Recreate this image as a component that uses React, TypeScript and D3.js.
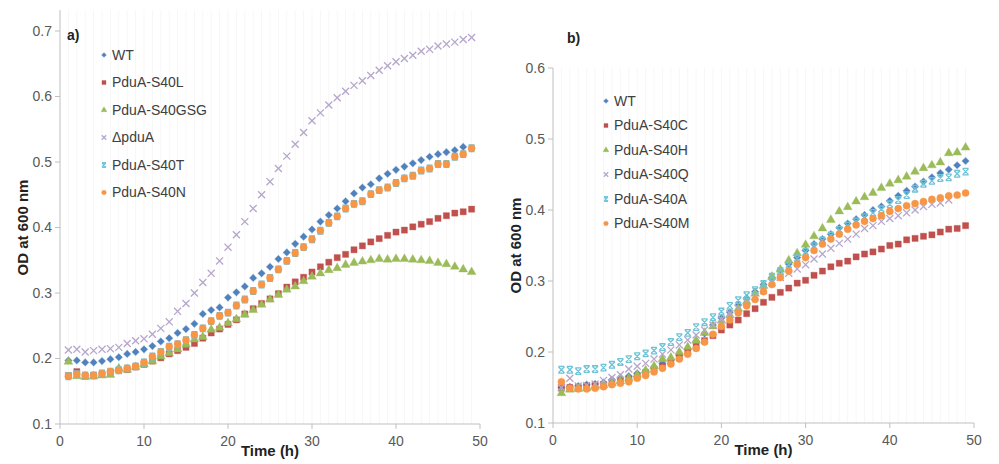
import React from "react";
import * as d3 from "d3";

const HOURS = [1,2,3,4,5,6,7,8,9,10,11,12,13,14,15,16,17,18,19,20,21,22,23,24,25,26,27,28,29,30,31,32,33,34,35,36,37,38,39,40,41,42,43,44,45,46,47,48,49];

// Panel a)
const A_WT = [0.197,0.197,0.194,0.194,0.196,0.199,0.202,0.207,0.210,0.214,0.219,0.226,0.231,0.239,0.245,0.253,0.268,0.274,0.278,0.293,0.301,0.310,0.323,0.330,0.340,0.352,0.362,0.375,0.386,0.397,0.409,0.419,0.429,0.440,0.452,0.461,0.466,0.475,0.482,0.488,0.493,0.498,0.503,0.508,0.512,0.515,0.518,0.523];
const A_S40L = [0.174,0.180,0.173,0.174,0.176,0.179,0.182,0.183,0.187,0.191,0.196,0.201,0.207,0.212,0.217,0.223,0.231,0.239,0.245,0.252,0.259,0.268,0.276,0.284,0.291,0.299,0.309,0.317,0.324,0.332,0.340,0.347,0.354,0.359,0.366,0.372,0.378,0.383,0.388,0.393,0.396,0.401,0.405,0.409,0.414,0.418,0.422,0.424,0.428];
const A_S40GSG = [0.195,0.173,0.172,0.173,0.174,0.175,0.185,0.183,0.187,0.191,0.196,0.203,0.208,0.214,0.221,0.229,0.233,0.244,0.247,0.254,0.260,0.267,0.274,0.282,0.290,0.297,0.305,0.310,0.318,0.325,0.330,0.335,0.338,0.343,0.346,0.348,0.350,0.352,0.351,0.352,0.352,0.351,0.350,0.349,0.346,0.344,0.340,0.336,0.332];
const A_DPDUA = [0.213,0.214,0.210,0.212,0.214,0.215,0.217,0.223,0.227,0.230,0.237,0.246,0.256,0.272,0.284,0.300,0.316,0.330,0.349,0.370,0.389,0.409,0.429,0.450,0.470,0.490,0.509,0.527,0.545,0.563,0.575,0.587,0.598,0.608,0.617,0.624,0.632,0.640,0.647,0.653,0.658,0.663,0.669,0.672,0.677,0.680,0.683,0.687,0.690];
const A_S40T = [0.173,0.176,0.174,0.174,0.177,0.180,0.182,0.185,0.188,0.194,0.203,0.210,0.218,0.222,0.228,0.236,0.246,0.257,0.265,0.270,0.281,0.290,0.303,0.313,0.323,0.336,0.349,0.361,0.370,0.382,0.395,0.407,0.417,0.429,0.436,0.440,0.451,0.457,0.461,0.468,0.475,0.479,0.487,0.490,0.497,0.497,0.508,0.512,0.521];
const A_S40N = [0.173,0.176,0.174,0.174,0.177,0.180,0.182,0.185,0.188,0.194,0.203,0.210,0.218,0.222,0.228,0.236,0.246,0.257,0.265,0.270,0.281,0.290,0.303,0.313,0.323,0.336,0.349,0.361,0.370,0.382,0.395,0.407,0.417,0.429,0.436,0.440,0.451,0.457,0.461,0.468,0.475,0.479,0.487,0.490,0.497,0.497,0.508,0.512,0.521];

// Panel b)
const B_WT = [0.150,0.151,0.152,0.154,0.155,0.157,0.161,0.164,0.166,0.170,0.173,0.178,0.184,0.189,0.195,0.204,0.215,0.226,0.238,0.248,0.256,0.266,0.276,0.285,0.295,0.305,0.315,0.324,0.333,0.343,0.352,0.359,0.366,0.375,0.381,0.387,0.393,0.400,0.405,0.413,0.420,0.427,0.433,0.440,0.446,0.452,0.457,0.463,0.469];
const B_S40C = [0.149,0.150,0.150,0.152,0.153,0.154,0.157,0.159,0.162,0.166,0.171,0.176,0.180,0.186,0.193,0.200,0.208,0.216,0.223,0.231,0.238,0.245,0.254,0.261,0.270,0.277,0.284,0.290,0.297,0.301,0.308,0.314,0.320,0.325,0.328,0.334,0.338,0.341,0.345,0.350,0.352,0.358,0.360,0.363,0.365,0.369,0.373,0.374,0.378];
const B_S40H = [0.142,0.147,0.148,0.149,0.151,0.153,0.156,0.159,0.163,0.168,0.174,0.180,0.190,0.192,0.200,0.207,0.216,0.227,0.236,0.244,0.252,0.261,0.271,0.282,0.293,0.306,0.316,0.329,0.339,0.351,0.363,0.374,0.386,0.398,0.404,0.412,0.418,0.424,0.431,0.437,0.442,0.447,0.454,0.459,0.463,0.467,0.480,0.481,0.488];
const B_S40Q = [0.150,0.163,0.152,0.153,0.155,0.160,0.164,0.168,0.176,0.180,0.184,0.190,0.197,0.203,0.210,0.217,0.224,0.231,0.238,0.246,0.254,0.262,0.270,0.278,0.287,0.298,0.305,0.311,0.317,0.323,0.331,0.338,0.346,0.353,0.359,0.366,0.374,0.378,0.384,0.388,0.392,0.396,0.400,0.405,0.408,0.410,0.414];
const B_S40A = [0.175,0.175,0.173,0.176,0.176,0.178,0.182,0.186,0.190,0.194,0.198,0.202,0.207,0.214,0.221,0.227,0.235,0.242,0.249,0.257,0.265,0.273,0.280,0.287,0.296,0.306,0.314,0.323,0.332,0.341,0.349,0.357,0.364,0.372,0.378,0.384,0.390,0.396,0.401,0.408,0.414,0.421,0.430,0.437,0.441,0.445,0.446,0.451,0.454];
const B_S40M = [0.158,0.149,0.148,0.148,0.149,0.151,0.154,0.156,0.158,0.163,0.167,0.172,0.177,0.183,0.190,0.197,0.205,0.214,0.225,0.236,0.245,0.255,0.265,0.274,0.285,0.295,0.305,0.314,0.324,0.333,0.343,0.352,0.359,0.366,0.373,0.379,0.384,0.388,0.392,0.398,0.402,0.406,0.409,0.412,0.415,0.417,0.420,0.421,0.424];

const X_TICKS = [0, 10, 20, 30, 40, 50];
const A_Y_TICKS = [0.1, 0.2, 0.3, 0.4, 0.5, 0.6, 0.7];
const B_Y_TICKS = [0.1, 0.2, 0.3, 0.4, 0.5, 0.6];

type MarkerType = "diamond" | "square" | "triangle" | "x" | "star" | "circle";
type Series = { name: string; values: number[]; marker: MarkerType; color: string };

const A_SERIES: Series[] = [
  { name: "WT", values: A_WT, marker: "diamond", color: "#4F81BD" },
  { name: "PduA-S40L", values: A_S40L, marker: "square", color: "#C0504D" },
  { name: "PduA-S40GSG", values: A_S40GSG, marker: "triangle", color: "#9BBB59" },
  { name: "\u0394pduA", values: A_DPDUA, marker: "x", color: "#B6A6CC" },
  { name: "PduA-S40T", values: A_S40T, marker: "star", color: "#6EC3D6" },
  { name: "PduA-S40N", values: A_S40N, marker: "circle", color: "#F79646" },
];
const B_SERIES: Series[] = [
  { name: "WT", values: B_WT, marker: "diamond", color: "#4F81BD" },
  { name: "PduA-S40C", values: B_S40C, marker: "square", color: "#C0504D" },
  { name: "PduA-S40H", values: B_S40H, marker: "triangle", color: "#9BBB59" },
  { name: "PduA-S40Q", values: B_S40Q, marker: "x", color: "#B6A6CC" },
  { name: "PduA-S40A", values: B_S40A, marker: "star", color: "#6EC3D6" },
  { name: "PduA-S40M", values: B_S40M, marker: "circle", color: "#F79646" },
];

const FONT = "'Liberation Sans', Arial, sans-serif";

function markerPath(t: MarkerType, k: number): string {
  switch (t) {
    case "diamond": return d3.symbol(d3.symbolSquare, 26 * k * k)() as string;
    case "square": return d3.symbol(d3.symbolSquare, 38 * k * k)() as string;
    case "triangle": return d3.symbol(d3.symbolTriangle, 34 * k * k)() as string;
    case "circle": return d3.symbol(d3.symbolCircle, 40 * k * k)() as string;
    case "x": return d3.symbol(d3.symbolX, 34 * k * k)() as string;
    case "star": {
      const r = 3 * k;
      return `M${-r},${-r}L${r},${r}M${-r},${r}L${r},${-r}M${-r},${-r - 0.3}L${r},${-r - 0.3}M${-r},${r + 0.3}L${r},${r + 0.3}`;
    }
  }
}

function Marker({ t, color, x, y, k = 1 }: { t: MarkerType; color: string; x: number; y: number; k?: number }) {
  const d = markerPath(t, k);
  const stroke = t === "x" || t === "star";
  const rot = t === "diamond" ? " rotate(45)" : "";
  return stroke ? (
    <path d={d} transform={`translate(${x},${y})`} fill="none" stroke={color} strokeWidth={1.3} />
  ) : (
    <path d={d} transform={`translate(${x},${y})${rot}`} fill={color} stroke={color} strokeOpacity={0.35} strokeWidth={1} />
  );
}

type PanelProps = {
  series: Series[];
  x0: number; x1: number; yTop: number; yBottom: number; yMax: number; axisTop: number;
  yTicks: number[]; label: string; labelX: number; labelY: number;
  legendX: number; legendY: number; legendStep: number; yTitleX: number;
};

function Panel(p: PanelProps) {
  const x = d3.scaleLinear().domain([0, 50]).range([p.x0, p.x1]);
  const y = d3.scaleLinear().domain([0.1, p.yMax]).range([p.yBottom, p.yTop]);
  const grid = HOURS;
  return (
    <g>
      {grid.map((h) => (
        <line key={"g" + h} x1={x(h)} x2={x(h)} y1={p.axisTop} y2={p.yBottom} stroke="#f7f7f7" strokeWidth={1} />
      ))}
      {/* axes */}
      <line x1={p.x0} x2={p.x0} y1={p.axisTop} y2={p.yBottom} stroke="#BFBFBF" />
      <line x1={p.x0} x2={p.x1} y1={p.yBottom} y2={p.yBottom} stroke="#BFBFBF" />
      {p.yTicks.map((t) => (
        <g key={"y" + t}>
          <line x1={p.x0 - 5} x2={p.x0} y1={y(t)} y2={y(t)} stroke="#BFBFBF" />
          <text x={p.x0 - 8} y={y(t)} dy="0.35em" textAnchor="end" fontSize={14} fill="#595959" fontFamily={FONT}>
            {d3.format(".1f")(t)}
          </text>
        </g>
      ))}
      {X_TICKS.map((t) => (
        <g key={"x" + t}>
          <line x1={x(t)} x2={x(t)} y1={p.yBottom} y2={p.yBottom + 5} stroke="#BFBFBF" />
          <text x={x(t)} y={p.yBottom + 22} textAnchor="middle" fontSize={14} fill="#595959" fontFamily={FONT}>
            {t}
          </text>
        </g>
      ))}
      <text x={(p.x0 + p.x1) / 2} y={p.yBottom + 32} textAnchor="middle" fontSize={15} fontWeight="bold" fill="#222" fontFamily={FONT}>
        Time (h)
      </text>
      <text
        transform={`translate(${p.yTitleX},${(p.yTop + p.yBottom) / 2}) rotate(-90)`}
        textAnchor="middle" fontSize={15} fontWeight="bold" fill="#222" fontFamily={FONT}
      >
        OD at 600 nm
      </text>
      <text x={p.labelX} y={p.labelY} fontSize={14} fontWeight="bold" fill="#222" fontFamily={FONT}>
        {p.label}
      </text>
      {/* data */}
      {p.series.map((s) => (
        <g key={s.name}>
          {s.values.map((v, i) => (
            <Marker key={i} t={s.marker} color={s.color} x={x(HOURS[i])} y={y(v)} />
          ))}
        </g>
      ))}
      {/* legend */}
      {p.series.map((s, i) => (
        <g key={"l" + s.name}>
          <Marker t={s.marker} color={s.color} x={p.legendX} y={p.legendY + i * p.legendStep} k={0.65} />
          <text x={p.legendX + 8} y={p.legendY + i * p.legendStep} dy="0.35em" fontSize={14} fill="#404040" fontFamily={FONT}>
            {s.name}
          </text>
        </g>
      ))}
    </g>
  );
}

export default function App() {
  return (
    <svg width={999} height={464} style={{ position: "absolute", left: 0, top: 0, background: "#fff" }}>
      <rect width={999} height={464} fill="#fff" />
      <Panel
        series={A_SERIES} x0={60} x1={480} yTop={31} yBottom={424} yMax={0.7} axisTop={10}
        yTicks={A_Y_TICKS} label="a)" labelX={67} labelY={40}
        legendX={104} legendY={55} legendStep={27.5} yTitleX={28}
      />
      <Panel
        series={B_SERIES} x0={553} x1={974} yTop={68} yBottom={423} yMax={0.6} axisTop={68}
        yTicks={B_Y_TICKS} label="b)" labelX={567} labelY={43}
        legendX={606} legendY={101} legendStep={24.5} yTitleX={521}
      />
    </svg>
  );
}
